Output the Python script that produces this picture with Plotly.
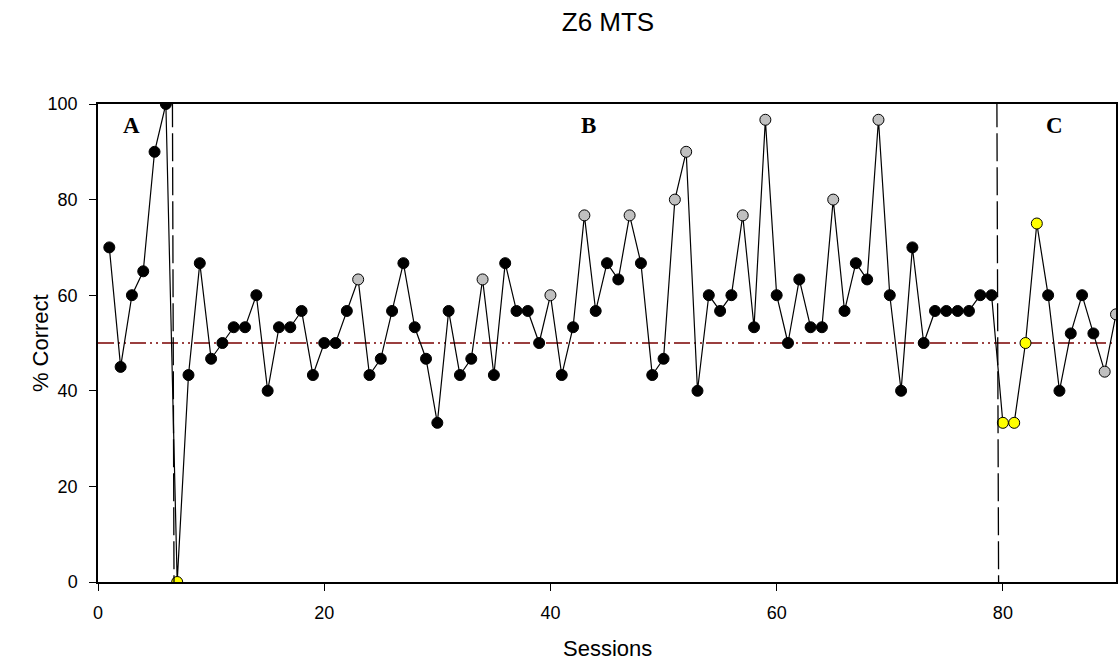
import plotly.graph_objects as go

sessions = list(range(1, 91))
pct_correct = [70, 45, 60, 65, 90, 100, 0, 43.3, 66.7, 46.7,
               50, 53.3, 53.3, 60, 40, 53.3, 53.3, 56.7, 43.3, 50,
               50, 56.7, 63.3, 43.3, 46.7, 56.7, 66.7, 53.3, 46.7, 33.3,
               56.7, 43.3, 46.7, 63.3, 43.3, 66.7, 56.7, 56.7, 50, 60,
               43.3, 53.3, 76.7, 56.7, 66.7, 63.3, 76.7, 66.7, 43.3, 46.7,
               80, 90, 40, 60, 56.7, 60, 76.7, 53.3, 96.7, 60,
               50, 63.3, 53.3, 53.3, 80, 56.7, 66.7, 63.3, 96.7, 60,
               40, 70, 50, 56.7, 56.7, 56.7, 56.7, 60, 60, 33.3,
               33.3, 50, 75, 60, 40, 52, 60, 52, 44, 56]
gray_sessions = [23, 34, 40, 43, 47, 51, 52, 57, 59, 65, 69, 89, 90]
yellow_sessions = [7, 80, 81, 82, 83]

phase_lines_top = [6.58, 79.47]
phase_lines_bottom = [6.72, 79.62]
phase_labels = ["A", "B", "C"]
phase_label_x = [2.97, 43.4, 84.6]
chance_level = 50
x_ticks = [0, 20, 40, 60, 80]
y_ticks = [0, 20, 40, 60, 80, 100]

colors = []
for s in sessions:
    if s in gray_sessions:
        colors.append("#c0c0c0")
    elif s in yellow_sessions:
        colors.append("#ffff00")
    else:
        colors.append("#000000")

fig = go.Figure()
fig.add_trace(go.Scatter(
    x=[0, 90], y=[chance_level, chance_level], mode="lines",
    line=dict(color="#7a0000", width=1.5, dash="16px,4px,2px,4px,2px,4px"),
    hoverinfo="skip", showlegend=False))
fig.add_trace(go.Scatter(
    x=sessions, y=pct_correct, mode="lines+markers",
    line=dict(color="black", width=1.2),
    marker=dict(size=11, color=colors, line=dict(color="black", width=1)),
    cliponaxis=True, showlegend=False))

for x0, x1 in zip(phase_lines_top, phase_lines_bottom):
    fig.add_shape(type="line", x0=x0, x1=x1, y0=101, y1=0,
                  xref="x", yref="y",
                  line=dict(color="black", width=1.3, dash="28px,6px"))

for lab, lx in zip(phase_labels, phase_label_x):
    fig.add_annotation(x=lx, y=95.6, text="<b>" + lab + "</b>", showarrow=False,
                       font=dict(family="Liberation Serif", size=23, color="black"))

# axis titles placed as annotations
fig.add_annotation(xref="paper", yref="paper", x=0.5, y=(582 - 648) / 478,
                   text="Sessions", showarrow=False,
                   font=dict(size=22), xanchor="center", yanchor="middle")
fig.add_annotation(xref="paper", yref="paper", x=(40 - 98) / 1020, y=0.5,
                   text="% Correct", showarrow=False, textangle=-90,
                   font=dict(size=22), xanchor="center", yanchor="middle")

fig.update_layout(
    width=1120, height=665,
    margin=dict(l=98, r=2, t=104, b=83),
    paper_bgcolor="white", plot_bgcolor="white",
    font=dict(family="Liberation Sans, Arial", size=18, color="black"),
    title=dict(text="Z6 MTS", x=608 / 1120, xanchor="center", y=1 - 21.5 / 665,
               yanchor="middle", font=dict(size=26)),
    xaxis=dict(range=[0, 90], tickvals=x_ticks, ticks="outside",
               ticklen=7, tickcolor="black", showline=True, linecolor="black",
               linewidth=1.5, mirror=True, showgrid=False, zeroline=False,
               ticklabelstandoff=7),
    yaxis=dict(range=[0, 100], tickvals=y_ticks, ticks="outside",
               ticklen=7, tickcolor="black", showline=True, linecolor="black",
               linewidth=1.5, mirror=True, showgrid=False, zeroline=False,
               ticklabelstandoff=8),
)

fig.write_html("out.html")
